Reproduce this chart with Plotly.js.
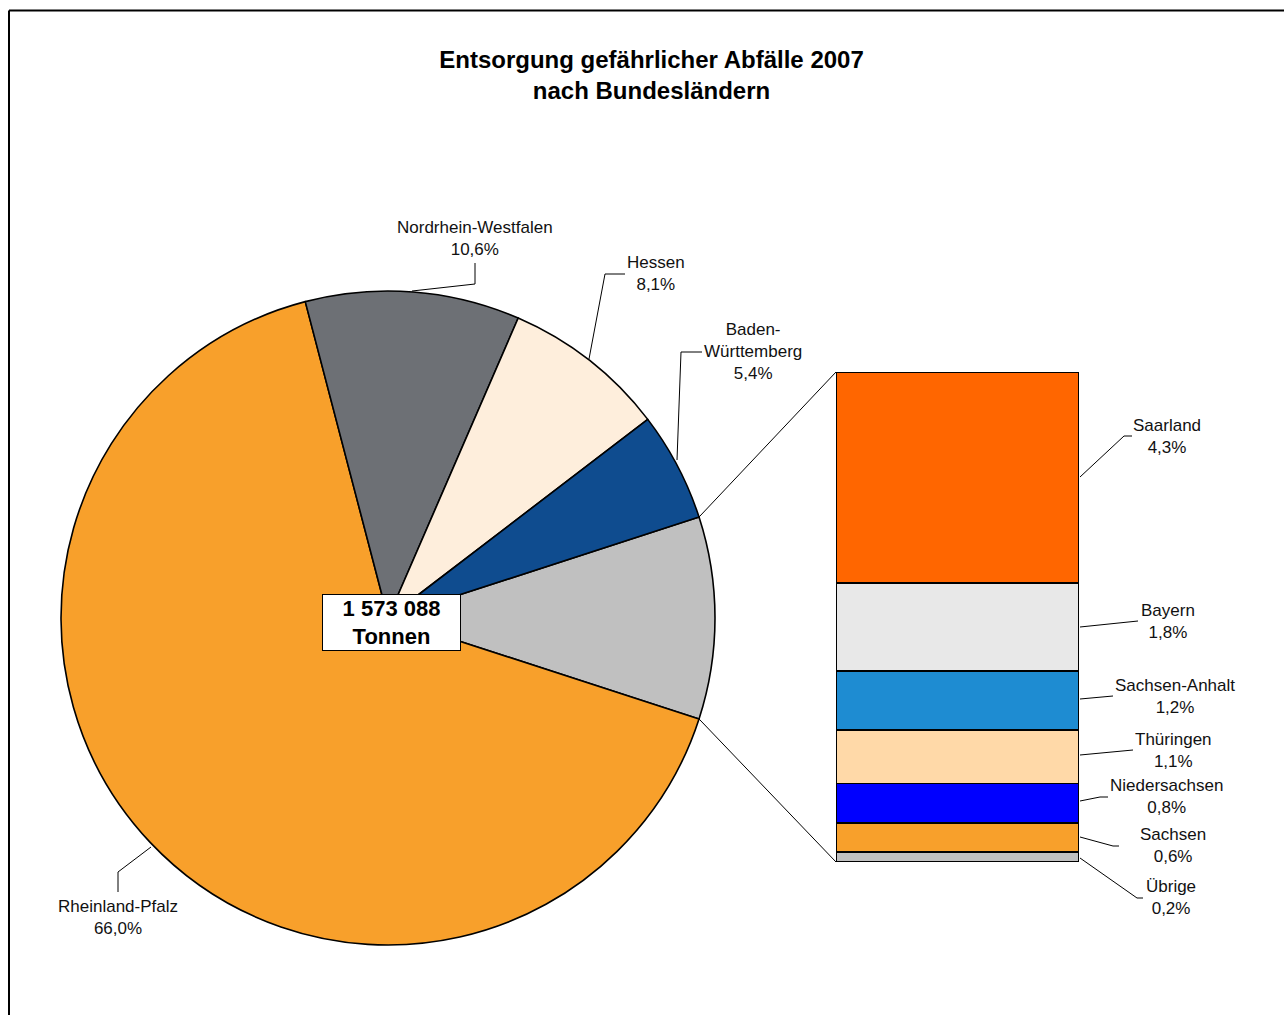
<!DOCTYPE html>
<html>
<head>
<meta charset="utf-8">
<script src="https://cdn.plot.ly/plotly-3.0.1.min.js"></script>
<style>html,body{margin:0;padding:0;background:#fff;}#chart{width:1284px;height:1015px;}</style>
</head>
<body>
<div id="chart"></div>
<script>
// ---- data ----
const pieLabels = ["Übrige Länder", "Rheinland-Pfalz", "Nordrhein-Westfalen", "Hessen", "Baden-Württemberg"];
const pieMainValues = [66.0, 10.6, 8.1, 5.4];           // Rheinland-Pfalz, NRW, Hessen, BW (%)
const pieColors = ["#C0C0C0", "#F8A02B", "#6D7075", "#FEEEDC", "#0F4C8F"];

const barLabels = ["Übrige", "Sachsen", "Niedersachsen", "Thüringen", "Sachsen-Anhalt", "Bayern", "Saarland"];
const barValues = [0.2, 0.6, 0.8, 1.1, 1.2, 1.8, 4.3];  // %
const barColors = ["#C0C0C0", "#F8A02B", "#0000FF", "#FFD9A8", "#1E8CD2", "#E8E8E8", "#FF6600"];

const totalTonnen = "1 573 088";

// ---- build ----
const W = 1284, H = 1015;
const px = x => x / W;
const py = y => 1 - y / H;
const fmt = v => v.toFixed(1).replace(".", ",") + "%";

const otherSum = barValues.reduce((a, b) => a + b, 0);
const pieValues = [otherSum].concat(pieMainValues);
const pieTotal = pieValues.reduce((a, b) => a + b, 0);
const halfOther = otherSum / pieTotal * 180;
const rotation = 90 - halfOther;

// pie geometry (px)
const cx = 388, cy = 618, R = 327;
const pieDomX = [px(cx - R), px(cx + R)];
const pieDomY = [py(cy + R), py(cy - R)];
// bar geometry (px)
const barL = 836, barR = 1079, barT = 372, barB = 862;

const traces = [{
  type: "pie",
  labels: pieLabels,
  values: pieValues,
  sort: false,
  direction: "clockwise",
  rotation: rotation,
  marker: {colors: pieColors, line: {color: "#000", width: 1.6}},
  textinfo: "none",
  hoverinfo: "none",
  showlegend: false,
  domain: {x: pieDomX, y: pieDomY}
}];
barLabels.forEach((lab, i) => {
  traces.push({
    type: "bar",
    x: [0],
    y: [barValues[i]],
    width: 1,
    name: lab,
    marker: {color: barColors[i], line: {color: "#000", width: 1.6}},
    hoverinfo: "none",
    showlegend: false,
    xaxis: "x", yaxis: "y"
  });
});

// connector lines from pie edges to bar corners
const aTop = (90 - halfOther) * Math.PI / 180;   // clock angle
const aBot = (90 + halfOther) * Math.PI / 180;
const pTop = [cx + R * Math.sin(aTop), cy - R * Math.cos(aTop)];
const pBot = [cx + R * Math.sin(aBot), cy - R * Math.cos(aBot)];

const lineShape = pts => ({
  type: "path", xref: "paper", yref: "paper",
  path: "M " + pts.map(p => px(p[0]) + "," + py(p[1])).join(" L "),
  line: {color: "#000", width: 1}
});

const shapes = [
  // border
  {type: "line", xref: "paper", yref: "paper", x0: px(9), x1: 1.01, y0: py(10.5), y1: py(10.5), line: {color: "#000", width: 2}},
  {type: "line", xref: "paper", yref: "paper", x0: px(9), x1: px(9), y0: py(10.5), y1: -0.01, line: {color: "#000", width: 2}},
  lineShape([pTop, [barL, barT]]),
  lineShape([pBot, [barL, barB]]),
  // leader lines
  lineShape([[412, 291], [475, 284], [475, 263]]),
  lineShape([[589, 359], [605, 274], [625, 274]]),
  lineShape([[677, 460], [681, 352], [702, 352]]),
  lineShape([[151, 847], [118, 872], [118, 892]]),
  lineShape([[1080, 477], [1124, 436], [1132, 436]]),
  lineShape([[1080, 627], [1138, 621]]),
  lineShape([[1080, 699], [1113, 696]]),
  lineShape([[1080, 755], [1133, 750]]),
  lineShape([[1080, 801], [1100, 797], [1108, 797]]),
  lineShape([[1080, 837], [1113, 846], [1119, 846]]),
  lineShape([[1080, 858], [1137, 898], [1143, 898]])
];

const labelFont = {family: "Liberation Sans, Arial, sans-serif", size: 17, color: "#111"};
const ann = (x, y, text) => ({
  xref: "paper", yref: "paper", x: px(x), y: py(y), text: text,
  showarrow: false, xanchor: "center", yanchor: "middle", font: labelFont
});

const annotations = [
  ann(475, 238, "Nordrhein-Westfalen<br>" + fmt(pieMainValues[1])),
  ann(656, 273, "Hessen<br>" + fmt(pieMainValues[2])),
  ann(753, 352, "Baden-<br>Württemberg<br>" + fmt(pieMainValues[3])),
  ann(118, 917, "Rheinland-Pfalz<br>" + fmt(pieMainValues[0])),
  ann(1167, 436, barLabels[6] + "<br>" + fmt(barValues[6])),
  ann(1168, 621, barLabels[5] + "<br>" + fmt(barValues[5])),
  ann(1175, 696, barLabels[4] + "<br>" + fmt(barValues[4])),
  ann(1173, 750, barLabels[3] + "<br>" + fmt(barValues[3])),
  ann(1166, 796, barLabels[2] + "<br>" + fmt(barValues[2])),
  ann(1173, 845, barLabels[1] + "<br>" + fmt(barValues[1])),
  ann(1171, 897, barLabels[0] + "<br>" + fmt(barValues[0])),
  {
    xref: "paper", yref: "paper", x: px(391.5), y: py(622.5),
    text: "<b>" + totalTonnen + "</b><br><b>Tonnen</b>",
    showarrow: false, xanchor: "center", yanchor: "middle",
    font: {family: "Liberation Sans, Arial, sans-serif", size: 22, color: "#000"},
    bgcolor: "#fff", bordercolor: "#000", borderwidth: 1, borderpad: 2,
    width: 133, height: 51
  }
];

const layout = {
  width: W, height: H,
  margin: {l: 0, r: 0, t: 0, b: 0},
  paper_bgcolor: "#fff", plot_bgcolor: "rgba(0,0,0,0)",
  title: {
    text: "<b>Entsorgung gefährlicher Abfälle 2007<br>nach Bundesländern</b>",
    font: {family: "Liberation Sans, Arial, sans-serif", size: 24, color: "#000"},
    x: 651.5 / W, xanchor: "center", xref: "container",
    y: 1 - 68 / H, yanchor: "middle", yref: "container"
  },
  barmode: "stack",
  xaxis: {domain: [px(barL), px(barR)], range: [-0.5, 0.5], visible: false, fixedrange: true},
  yaxis: {domain: [py(barB), py(barT)], range: [0, otherSum], visible: false, fixedrange: true},
  shapes: shapes,
  annotations: annotations,
  showlegend: false
};

Plotly.newPlot("chart", traces, layout, {displayModeBar: false, staticPlot: true});
</script>
</body>
</html>
